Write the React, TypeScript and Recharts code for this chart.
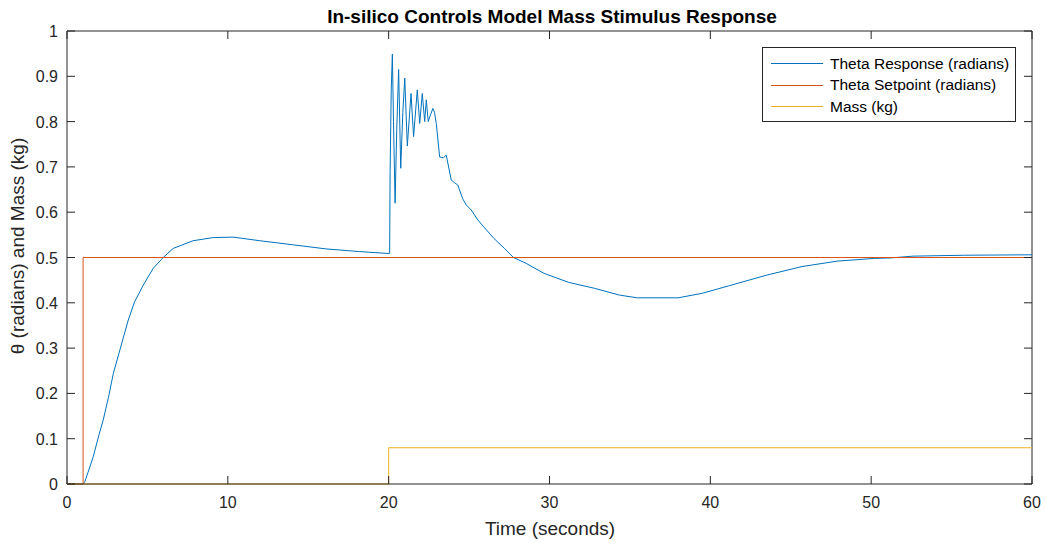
import { LineChart, Line, XAxis, YAxis, Legend, ReferenceLine } from "recharts";

const FONT = '"Liberation Sans", Arial, Helvetica, sans-serif';
const AXIS = "#262626";

const X_TICKS = [0, 10, 20, 30, 40, 50, 60];
const Y_TICKS = [0, 0.1, 0.2, 0.3, 0.4, 0.5, 0.6, 0.7, 0.8, 0.9, 1];
const Y_LABELS = ["0", "0.1", "0.2", "0.3", "0.4", "0.5", "0.6", "0.7", "0.8", "0.9", "1"];

// theta response (radians)
const response = [
  { t: 0, v: 0 }, { t: 1.0, v: 0 }, { t: 1.12, v: 0.006 }, { t: 1.3, v: 0.025 }, { t: 1.63, v: 0.06 },
  { t: 2.0, v: 0.11 }, { t: 2.25, v: 0.141 }, { t: 2.6, v: 0.195 }, { t: 2.88, v: 0.244 }, { t: 3.29, v: 0.296 },
  { t: 3.81, v: 0.362 }, { t: 4.2, v: 0.402 }, { t: 4.74, v: 0.439 }, { t: 5.36, v: 0.476 }, { t: 5.98, v: 0.5 },
  { t: 6.6, v: 0.52 }, { t: 7.84, v: 0.537 }, { t: 9.09, v: 0.544 }, { t: 10.33, v: 0.545 }, { t: 11.99, v: 0.537 },
  { t: 14.06, v: 0.528 }, { t: 16.1, v: 0.519 }, { t: 18.2, v: 0.513 }, { t: 19.96, v: 0.509 },
  { t: 20.06, v: 0.509 }, { t: 20.09, v: 0.69 }, { t: 20.16, v: 0.87 }, { t: 20.23, v: 0.949 }, { t: 20.3, v: 0.8 },
  { t: 20.4, v: 0.62 }, { t: 20.5, v: 0.78 }, { t: 20.62, v: 0.915 }, { t: 20.75, v: 0.697 }, { t: 20.88, v: 0.82 },
  { t: 21.0, v: 0.896 }, { t: 21.16, v: 0.746 }, { t: 21.39, v: 0.862 }, { t: 21.55, v: 0.767 }, { t: 21.78, v: 0.87 },
  { t: 21.93, v: 0.796 }, { t: 22.09, v: 0.862 }, { t: 22.24, v: 0.8 }, { t: 22.34, v: 0.848 }, { t: 22.46, v: 0.8 },
  { t: 22.6, v: 0.815 }, { t: 22.75, v: 0.829 }, { t: 22.85, v: 0.82 }, { t: 22.96, v: 0.796 }, { t: 23.17, v: 0.722 },
  { t: 23.4, v: 0.72 }, { t: 23.58, v: 0.726 }, { t: 23.89, v: 0.671 }, { t: 24.1, v: 0.665 }, { t: 24.3, v: 0.66 },
  { t: 24.6, v: 0.63 }, { t: 24.82, v: 0.616 }, { t: 25.13, v: 0.605 }, { t: 25.5, v: 0.585 }, { t: 25.8, v: 0.572 },
  { t: 26.55, v: 0.542 }, { t: 27.2, v: 0.52 }, { t: 27.76, v: 0.5 }, { t: 28.55, v: 0.487 }, { t: 29.66, v: 0.465 },
  { t: 31.2, v: 0.445 }, { t: 32.8, v: 0.432 }, { t: 34.35, v: 0.417 }, { t: 35.46, v: 0.411 }, { t: 38.0, v: 0.411 },
  { t: 39.5, v: 0.421 }, { t: 41.2, v: 0.438 }, { t: 43.5, v: 0.461 }, { t: 45.7, v: 0.48 }, { t: 47.9, v: 0.492 },
  { t: 50.2, v: 0.498 }, { t: 51.2, v: 0.499 }, { t: 52.6, v: 0.503 }, { t: 55.75, v: 0.505 }, { t: 60, v: 0.506 },
];

// setpoint steps to 0.5 rad at t = 1 s
const setpoint = [{ t: 0, v: 0 }, { t: 1, v: 0 }, { t: 1, v: 0.5 }, { t: 60, v: 0.5 }];

// mass steps to 0.08 kg at t = 20 s
const mass = [{ t: 0, v: 0 }, { t: 20, v: 0 }, { t: 20, v: 0.08 }, { t: 60, v: 0.08 }];

const SERIES = [
  { name: "Theta Response (radians)", color: "#0072BD", data: response },
  { name: "Theta Setpoint (radians)", color: "#D95319", data: setpoint },
  { name: "Mass (kg)", color: "#EDB120", data: mass },
];

// plot box, used for the inward tick marks on all four sides
const W = 1045, H = 543;
const M = { top: 31, right: 13, left: 67, bottom: 59 };
const TICK_LEN = 8;

function BottomTick({ x, payload }: any) {
  const top = M.top, bottom = H - M.bottom;
  return (
    <g>
      <line x1={x} x2={x} y1={bottom} y2={bottom - TICK_LEN} stroke={AXIS} />
      <line x1={x} x2={x} y1={top} y2={top + TICK_LEN} stroke={AXIS} />
      <text x={x} y={bottom + 24} textAnchor="middle" fill={AXIS} fontSize={16} fontFamily={FONT}>
        {payload.value}
      </text>
    </g>
  );
}

function LeftTick({ y, payload, index }: any) {
  const left = M.left, right = W - M.right;
  return (
    <g>
      <line x1={left} x2={left + TICK_LEN} y1={y} y2={y} stroke={AXIS} />
      <line x1={right} x2={right - TICK_LEN} y1={y} y2={y} stroke={AXIS} />
      <text x={left - 9} y={y + 6} textAnchor="end" fill={AXIS} fontSize={16} fontFamily={FONT}>
        {Y_LABELS[index] ?? payload.value}
      </text>
    </g>
  );
}

function LegendBox() {
  return (
    <div style={{ width: 252, height: 68, border: `1px solid ${AXIS}`, background: "#fff", fontFamily: FONT, fontSize: 15.5, color: "#000", paddingTop: 5, boxSizing: "content-box" }}>
      {SERIES.map((s) => (
        <div key={s.name} style={{ display: "flex", alignItems: "center", height: 21.5 }}>
          <div style={{ width: 52, borderTop: `1px solid ${s.color}`, marginLeft: 8, marginRight: 7 }} />
          <span>{s.name}</span>
        </div>
      ))}
    </div>
  );
}

export default function App() {
  return (
    <div style={{ position: "absolute", left: 0, top: 0 }}>
      <LineChart width={W} height={H} margin={{ top: M.top, right: M.right, bottom: 0, left: 0 }}>
        <text x={552} y={23} textAnchor="middle" fontFamily={FONT} fontSize={19} fontWeight="bold" fill="#000">
          In-silico Controls Model Mass Stimulus Response
        </text>
        <text x={24} y={246} textAnchor="middle" transform="rotate(-90 24 246)" fontFamily={FONT} fontSize={19} fill={AXIS}>
          θ (radians) and Mass (kg)
        </text>
        <text x={550} y={535} textAnchor="middle" fontFamily={FONT} fontSize={19} fill={AXIS}>
          Time (seconds)
        </text>
        <XAxis type="number" dataKey="t" domain={[0, 60]} ticks={X_TICKS} allowDuplicatedCategory={false}
          height={M.bottom} tickSize={0} tickMargin={12} tickLine={false} axisLine={{ stroke: AXIS }} tick={<BottomTick />} />
        <YAxis type="number" domain={[0, 1]} ticks={Y_TICKS} width={M.left} tickSize={0} tickMargin={9}
          tickLine={false} axisLine={{ stroke: AXIS }} tick={<LeftTick />} />
        <ReferenceLine y={1} stroke={AXIS} ifOverflow="extendDomain" />
        <ReferenceLine x={60} stroke={AXIS} ifOverflow="extendDomain" />
        {SERIES.map((s) => (
          <Line key={s.name} data={s.data} dataKey="v" name={s.name} type="linear" stroke={s.color}
            strokeWidth={1} dot={false} isAnimationActive={false} />
        ))}
        <Legend layout="vertical" align="center" verticalAlign="middle" content={<LegendBox />}
          wrapperStyle={{ left: 762, top: 47, width: 254 }} />
      </LineChart>
    </div>
  );
}
